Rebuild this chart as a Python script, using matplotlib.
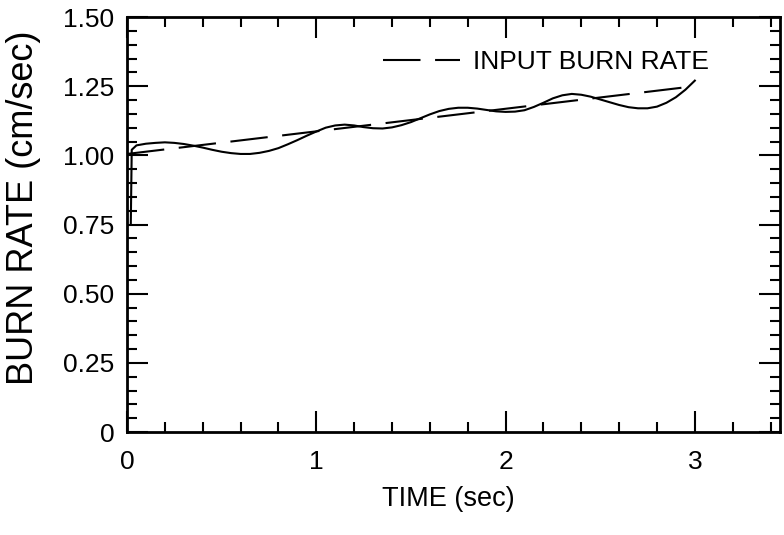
import numpy as np
import matplotlib
matplotlib.use("Agg")
import matplotlib.pyplot as plt
from matplotlib.ticker import FixedLocator, FixedFormatter, MultipleLocator

# input burn rate (dashed, straight line)
input_time = [0.0, 3.0]
input_rate = [1.005, 1.25]

# computed burn rate (solid)
time = [0.02, 0.025, 0.05, 0.1, 0.15, 0.2, 0.25, 0.3, 0.35, 0.4, 0.45, 0.5,
        0.55, 0.6, 0.65, 0.7, 0.75, 0.8, 0.85, 0.9, 0.95, 1.0, 1.05, 1.1,
        1.15, 1.2, 1.25, 1.3, 1.35, 1.4, 1.45, 1.5, 1.55, 1.6, 1.65, 1.7,
        1.75, 1.8, 1.85, 1.9, 1.95, 2.0, 2.05, 2.1, 2.15, 2.2, 2.25, 2.3,
        2.35, 2.4, 2.45, 2.5, 2.55, 2.6, 2.65, 2.7, 2.75, 2.8, 2.85, 2.9,
        2.95, 3.0]
rate = [0.75, 1.02, 1.036, 1.042, 1.045, 1.047, 1.045, 1.041, 1.035, 1.028,
        1.020, 1.013, 1.008, 1.005, 1.005, 1.009, 1.016, 1.026, 1.040, 1.055,
        1.071, 1.086, 1.100, 1.108, 1.111, 1.108, 1.102, 1.098, 1.097, 1.101,
        1.109, 1.120, 1.134, 1.148, 1.160, 1.168, 1.172, 1.172, 1.169, 1.164,
        1.159, 1.157, 1.158, 1.163, 1.175, 1.190, 1.206, 1.217, 1.222, 1.219,
        1.212, 1.202, 1.192, 1.182, 1.174, 1.170, 1.170, 1.176, 1.190, 1.210,
        1.237, 1.270]

yticks = [0, 0.25, 0.5, 0.75, 1.0, 1.25, 1.5]
ytick_labels = ["0", "0.25", "0.50", "0.75", "1.00", "1.25", "1.50"]
xticks = [0, 1, 2, 3]
xtick_labels = ["0", "1", "2", "3"]

plt.rcParams['font.family'] = ['Liberation Sans', 'DejaVu Sans']

fig = plt.figure(figsize=(7.84, 5.35), dpi=100)
ax = fig.add_axes([127 / 784, 1 - 432 / 535, 653 / 784, 415 / 535])

ax.plot(time, rate, color='black', linewidth=1.5)
ax.plot(input_time, input_rate, color='black', linewidth=1.5,
        dashes=(18, 7), label='INPUT BURN RATE')

ax.set_xlim(0, 3.45)
ax.set_ylim(0, 1.5)

ax.xaxis.set_major_locator(FixedLocator(xticks))
ax.xaxis.set_major_formatter(FixedFormatter(xtick_labels))
ax.xaxis.set_minor_locator(MultipleLocator(0.2))
ax.yaxis.set_major_locator(FixedLocator(yticks))
ax.yaxis.set_major_formatter(FixedFormatter(ytick_labels))
ax.yaxis.set_minor_locator(MultipleLocator(0.05))

ax.tick_params(which='both', direction='in', top=True, right=True,
               width=1.5, colors='black')
ax.tick_params(which='major', length=15, labelsize=19)
ax.tick_params(which='minor', length=7.5)
ax.tick_params(axis='y', which='major', pad=9)
ax.tick_params(axis='x', which='major', pad=13)

for spine in ax.spines.values():
    spine.set_linewidth(2)
    spine.set_color('black')

ax.set_ylabel('BURN RATE (cm/sec)', fontsize=26)
ax.yaxis.set_label_coords(-0.158, 0.54)
ax.yaxis.label.set_va('center')
ax.set_xlabel('TIME (sec)', fontsize=19.5)
ax.xaxis.set_label_coords((448 - 127) / 653, (432 - 499) / 415)
ax.xaxis.label.set_va('center')

ax.legend(loc='center left', bbox_to_anchor=(0.392, 0.892), frameon=False,
          fontsize=19, handlelength=2.9, handletextpad=0.5, borderpad=0,
          borderaxespad=0)

plt.savefig("out.png", dpi=100)
